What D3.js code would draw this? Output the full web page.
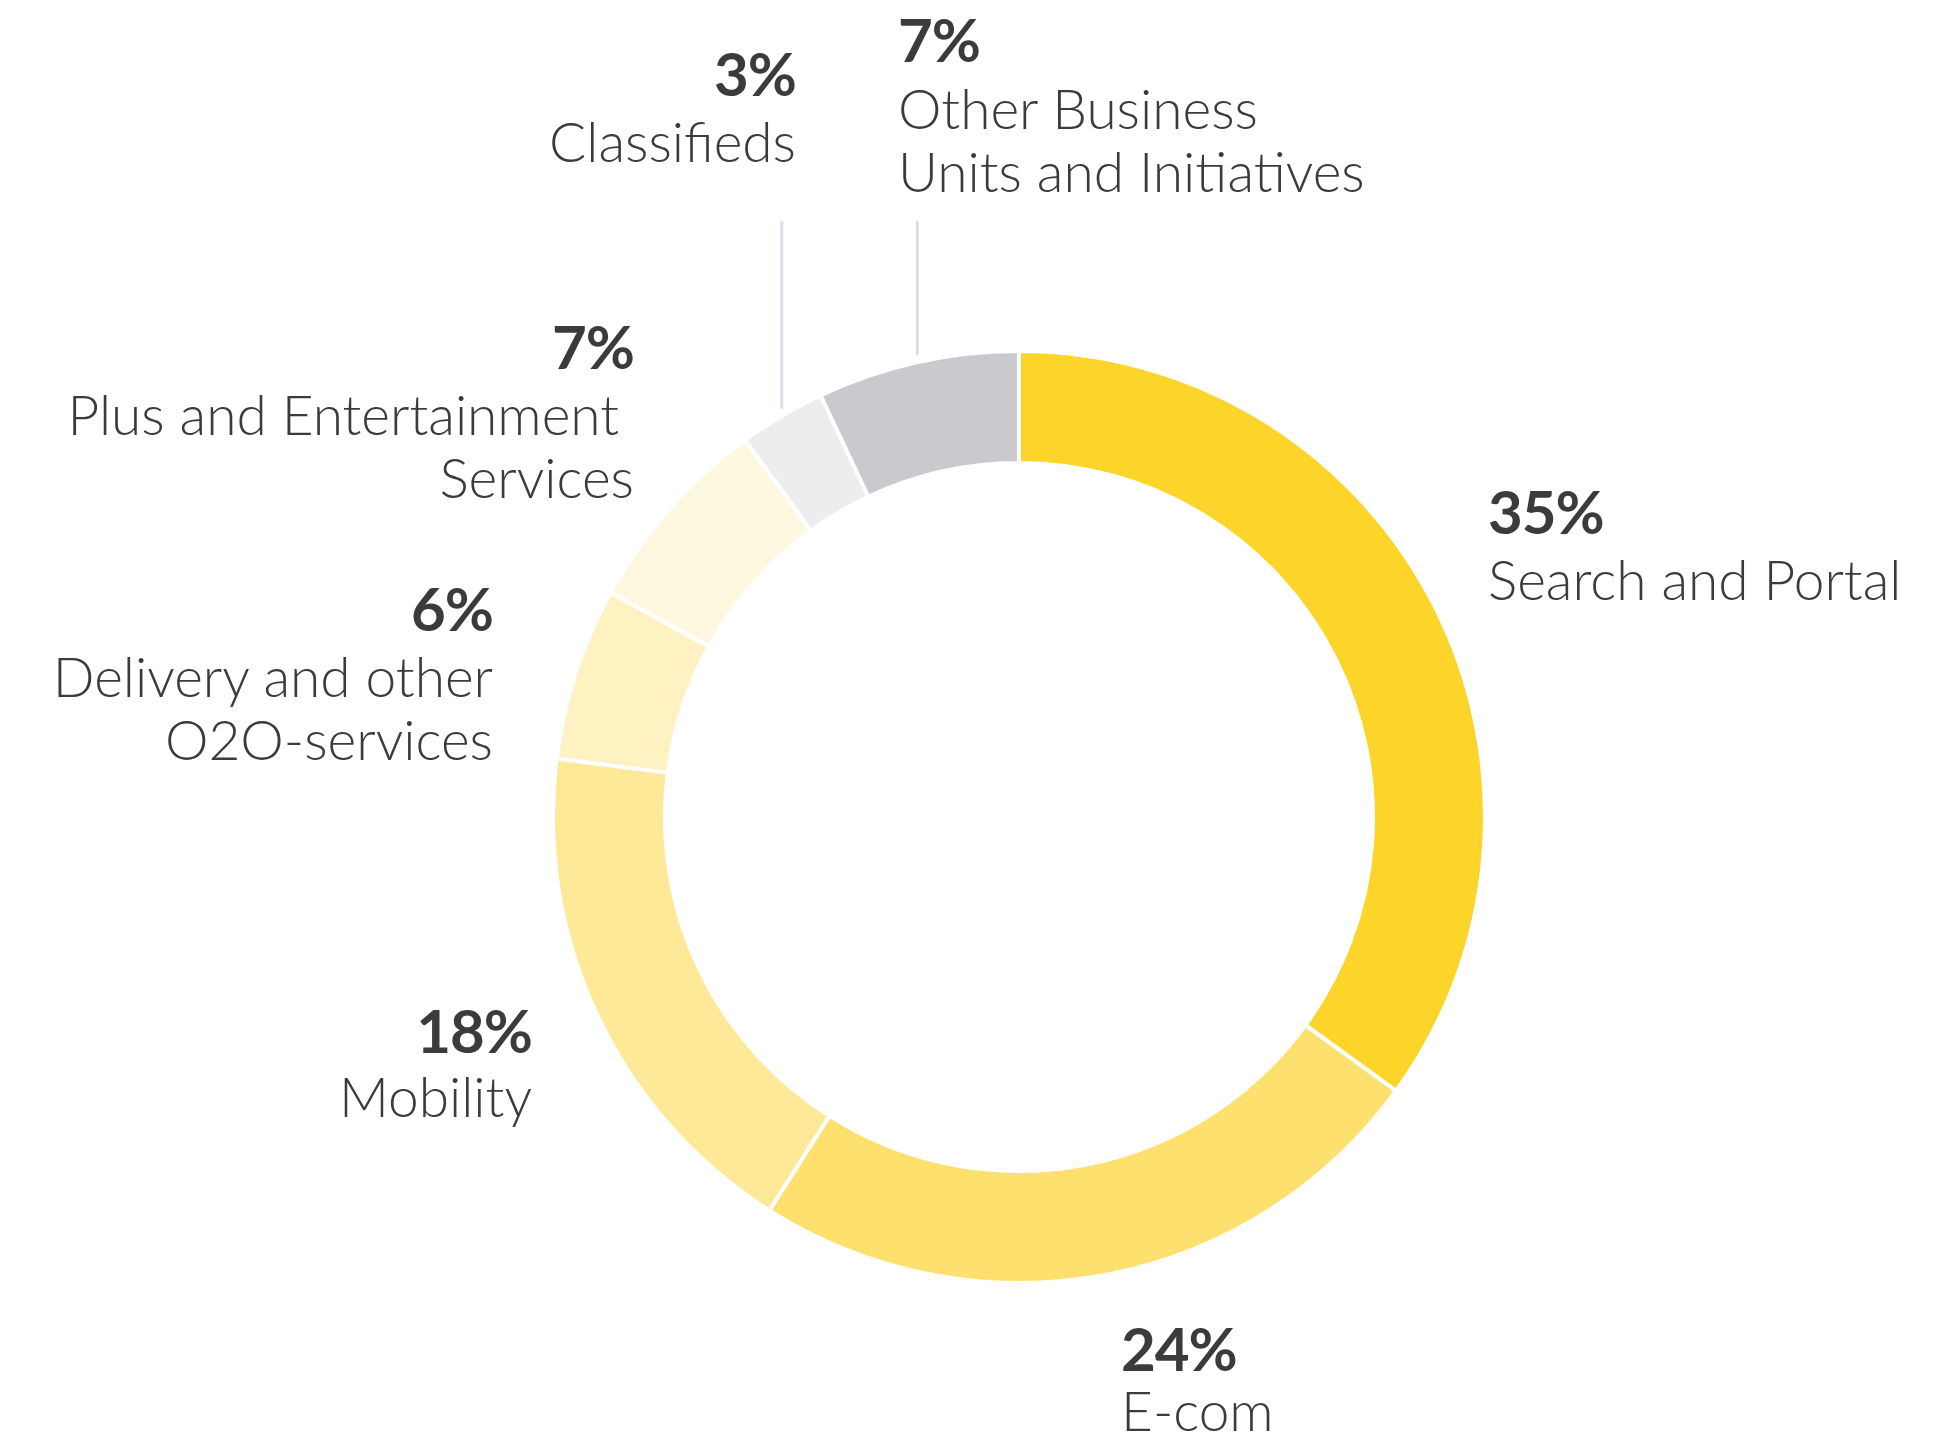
<!DOCTYPE html>
<html>
<head>
<meta charset="utf-8">
<script src="https://cdn.jsdelivr.net/npm/d3@7"></script>
<style>
  body { margin: 0; background: #ffffff; }
  text { font-family: Lato, "Open Sans", sans-serif; fill: #3b3b3b; }
  .pct { font-weight: 700; font-size: 60px; letter-spacing: -1px; }
  .lbl { font-weight: 300; font-size: 55px; }
</style>
</head>
<body>
<div id="chart"></div>
<script>
// segment names (one entry per text line) and their shares, clockwise from 12 o'clock
const categories = [
  ['Search and Portal'],
  ['E-com'],
  ['Mobility'],
  ['Delivery and other', 'O2O-services'],
  ['Plus and Entertainment\u00a0', 'Services'],
  ['Classifieds'],
  ['Other Business', 'Units and Initiatives']
];
const shares = [35, 24, 18, 6, 7, 3, 7];
const pctLabels = ['35%', '24%', '18%', '6%', '7%', '3%', '7%'];

const colors = ['#fcd42a', '#fee06f', '#fee999', '#fef2c2', '#fff8e1', '#ededf0', '#cacace'];

// label anchor offsets from the chart centre, gap to the first name line, alignment
const labelLayout = [
  { dx: 469, dy: -283, gap: 66, anchor: 'start' },
  { dx: 102, dy: 554, gap: 60, anchor: 'start' },
  { dx: -487, dy: 236, gap: 64, anchor: 'end' },
  { dx: -526, dy: -186, gap: 66, anchor: 'end' },
  { dx: -385, dy: -448, gap: 66, anchor: 'end' },
  { dx: -223, dy: -721, gap: 66, anchor: 'end' },
  { dx: -121, dy: -755, gap: 67, anchor: 'start' }
];
// segments that get a vertical leader line up towards their label
const leaders = [5, 6];

const width = 1948, height = 1448;
const cx = 1019, cy = 817;
const outerRadius = 466, innerRadius = 354;

const svg = d3.select('#chart')
  .append('svg')
  .attr('width', width)
  .attr('height', height);

const g = svg.append('g')
  .attr('transform', `translate(${cx}, ${cy})`);

const data = shares.map((v, i) => ({ value: v, i }));

const pie = d3.pie()
  .sort(null)
  .value(d => d.value);

const arc = d3.arc()
  .innerRadius(innerRadius)
  .outerRadius(outerRadius);

const arcs = pie(data);

g.selectAll('path.slice')
  .data(arcs)
  .enter()
  .append('path')
  .attr('class', 'slice')
  .attr('d', arc)
  .style('fill', d => colors[d.data.i])
  .style('stroke', '#ffffff')
  .style('stroke-width', 4);

// leader lines
leaders.forEach(i => {
  const a = arcs[i];
  const mid = (a.startAngle + a.endAngle) / 2;
  const x = outerRadius * Math.sin(mid);
  const yEnd = -outerRadius * Math.cos(mid) - 7;
  g.append('line')
    .attr('x1', x).attr('x2', x)
    .attr('y1', 221 - cy).attr('y2', yEnd)
    .style('stroke', '#dcdee6')
    .style('stroke-width', 3);
});

// labels
const labels = g.selectAll('g.label')
  .data(labelLayout)
  .enter()
  .append('g')
  .attr('class', 'label')
  .attr('transform', d => `translate(${d.dx}, ${d.dy})`);

labels.append('text')
  .attr('class', 'pct')
  .attr('text-anchor', d => d.anchor)
  .text((d, i) => pctLabels[i]);

labels.each(function (d, i) {
  categories[i].forEach((line, j) => {
    d3.select(this).append('text')
      .attr('class', 'lbl')
      .attr('text-anchor', d.anchor)
      .attr('y', d.gap + j * 63)
      .text(line);
  });
});
</script>
</body>
</html>
